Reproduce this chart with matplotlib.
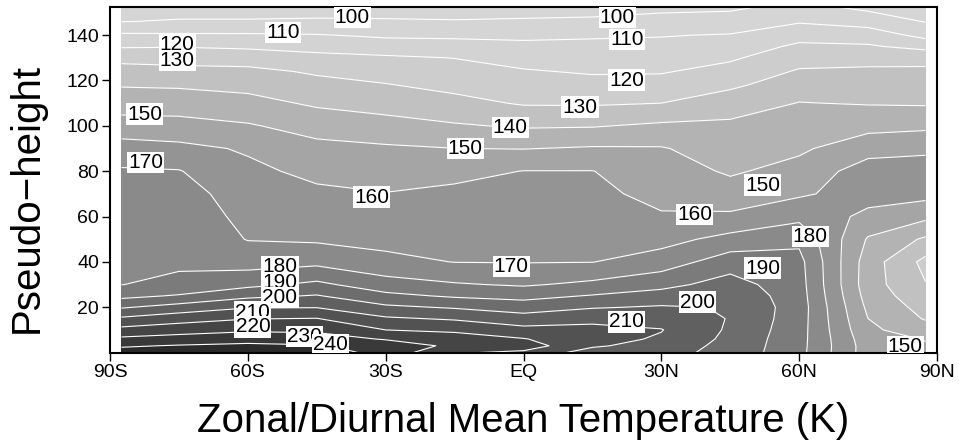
import matplotlib
matplotlib.use('Agg')
import matplotlib.pyplot as plt
import numpy as np

plt.rcParams['font.family'] = ['Liberation Sans', 'DejaVu Sans']

# grid of the zonal/diurnal mean temperature field (K)
lats = [-87.5, -75, -60, -45, -30, -15, 0, 15, 30, 45, 60, 75, 87.5]
heights = [0, 3, 6, 10, 15, 20, 25, 30, 40, 50, 60, 70, 80, 90, 100,
           110, 118, 124, 130, 135, 140, 146, 153]

# one row per latitude, values from the lowest height to the top
temp_by_lat = [
    [244, 238.9, 232, 223, 211.6, 199, 187.4, 179.9, 178.6, 177.2, 175.6, 174, 171.1, 164.3, 154.2, 145.4, 139.3, 133.8, 127.1, 119.1, 111.5, 99.8, 96],
    [246, 240.7, 234.1, 225.8, 215.9, 204, 191, 181.8, 178.7, 177.2, 175.6, 174, 170.5, 162.6, 153.5, 145.2, 138.8, 132.4, 126.9, 119.5, 111.3, 100.7, 96],
    [247, 242, 236.3, 228.4, 219.6, 209.3, 197.8, 187.4, 175.8, 169.6, 167.5, 165.2, 162.1, 158.9, 150.9, 143.3, 137.1, 132.3, 125.6, 118.4, 111.2, 100.7, 96],
    [246, 240.8, 235, 227.9, 220.3, 209.6, 200.7, 192.2, 177.4, 168.6, 165.2, 161.8, 157.7, 152.7, 146.3, 138.5, 132.8, 128.8, 122.5, 117, 110.5, 101.1, 96],
    [236, 236.7, 229.1, 220, 211.4, 201.9, 192.5, 184.4, 172.4, 167.3, 163.8, 160.3, 155.9, 151.4, 143.6, 136.1, 130.5, 126.1, 121.5, 114.3, 108.6, 100.9, 96],
    [221, 227.5, 224.5, 218.3, 208.8, 199, 188.7, 180.9, 169.8, 167, 164.5, 162.2, 157.2, 150.1, 141, 132.9, 127.3, 123.6, 119.8, 113.8, 108.2, 100.5, 96],
    [218, 225, 220.5, 213, 204.3, 195.2, 186.9, 178.9, 169.6, 167.5, 165.5, 163, 160.2, 149.7, 138.9, 129.1, 124.4, 120.8, 116.4, 112.5, 107.8, 101, 96],
    [205, 211.5, 213.5, 212.5, 207.6, 199.2, 190.7, 182.2, 169.8, 167.5, 165, 162.5, 160.2, 151, 139.3, 128.9, 123.2, 119, 115.1, 112, 109, 101.2, 97],
    [203.5, 205.5, 208.8, 210.4, 206.2, 201, 194, 187.1, 174.7, 166.6, 161, 157, 154.5, 150.7, 141.7, 130, 123.7, 119.2, 115.4, 112.4, 109.5, 102.3, 98],
    [196.5, 197, 197.5, 198.5, 199.5, 199.5, 197.5, 194, 185.4, 173.2, 161.7, 154.1, 148.8, 145.2, 141.9, 135.3, 128.2, 123.4, 118.6, 114.6, 110.6, 103.7, 98],
    [183, 183.3, 183.6, 184, 184.5, 185, 184.5, 184, 183, 177.8, 167.2, 158.7, 153.3, 148.4, 144.4, 140.3, 135.2, 131, 126.1, 121.8, 116.5, 109.1, 102],
    [155, 155, 154, 152, 150, 148, 146, 144.5, 145, 149, 157.5, 164, 165, 156, 147, 139.4, 135, 131.7, 126.7, 121, 115.7, 105.5, 97],
    [152, 150.9, 149.5, 144.5, 139.2, 136.5, 133.3, 130.4, 127.2, 138.5, 152.3, 163.2, 164.7, 158, 147.9, 139, 135, 132, 126.4, 117.2, 106.8, 99.6, 95],
]

line_levels = [100, 110, 120, 130, 140, 150, 160, 170, 180, 190, 200, 210, 220, 230, 240]
fill_levels = [60] + line_levels + [280]
fill_colors = ['#d5d5d5', '#d5d5d5', '#d3d3d3', '#cdcdcd', '#c1c1c1', '#b3b3b3',
               '#a5a5a5', '#949494', '#8a8a8a', '#7b7b7b', '#6d6d6d', '#606060',
               '#525252', '#454545', '#393939', '#2b2b2b']

xticks = [-90, -60, -30, 0, 30, 60, 90]
xtick_labels = ['90S', '60S', '30S', 'EQ', '30N', '60N', '90N']
yticks = [20, 40, 60, 80, 100, 120, 140]

# where each contour label sits: (level, lat, height)
label_spots = [
    (100, -37.3, 147.6), (100, 20.4, 147.6),
    (110, -52.3, 141.0), (110, 22.5, 137.9),
    (120, -75.4, 135.7), (120, 22.5, 120.2),
    (130, -75.4, 129.0), (130, 12.3, 108.3),
    (140, -2.9, 99.1),
    (150, -82.4, 105.2), (150, -12.7, 90.2), (150, 52.1, 73.9), (150, 83.1, 2.5),
    (160, -33.0, 68.6), (160, 37.3, 60.7),
    (170, -82.2, 84.0), (170, -2.7, 37.8),
    (180, -53.0, 37.8), (180, 62.4, 51.0),
    (190, -53.0, 30.7), (190, 52.1, 37.3),
    (200, -53.0, 24.1), (200, 37.8, 22.3),
    (210, -58.9, 17.9), (210, 22.5, 13.5),
    (220, -58.9, 11.3),
    (230, -47.6, 6.9),
    (240, -42.1, 3.4),
]

T = np.array(temp_by_lat).T

fig = plt.figure(figsize=(9.59, 4.45), dpi=100)
ax = fig.add_axes([110 / 959, 1 - 352.6 / 445, 827 / 959, 345.6 / 445])

ax.contourf(lats, heights, T, levels=fill_levels, colors=fill_colors)
ax.contour(lats, heights, T, levels=line_levels, colors='white', linewidths=0.8)

# contour labels: black digits on a white box, like GrADS clabels
for lev, x, y in label_spots:
    ax.text(x, y, '%d' % lev, ha='center', va='center', fontsize=15,
            bbox=dict(boxstyle='square,pad=0.05', fc='white', ec='none'),
            clip_on=True)

ax.set_xlim(-90, 90)
ax.set_ylim(0, 152.4)
ax.set_xticks(xticks)
ax.set_xticklabels(xtick_labels)
ax.set_yticks(yticks)
ax.tick_params(direction='out', length=6, width=1, labelsize=14, pad=2)
for s in ax.spines.values():
    s.set_linewidth(1.5)

fig.text(523.5 / 959, 1 - 421 / 445, 'Zonal/Diurnal Mean Temperature (K)',
         ha='center', va='center', fontsize=29)
fig.text(27 / 959, 1 - 198 / 445, 'Pseudo\u2212height', rotation=90,
         ha='center', va='center', fontsize=29)

fig.savefig('out.png', dpi=100)
